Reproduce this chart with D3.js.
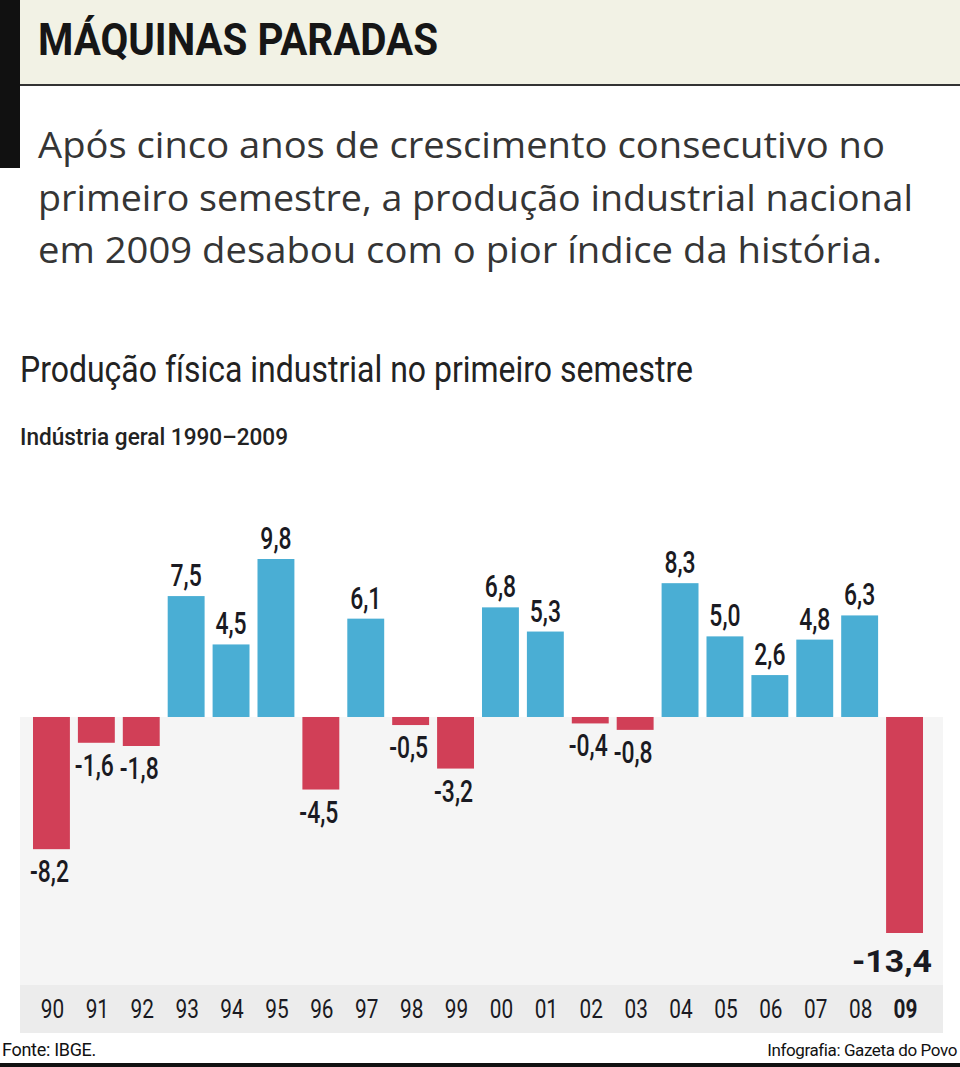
<!DOCTYPE html>
<html>
<head>
<meta charset="utf-8">
<script src="https://cdn.jsdelivr.net/npm/d3@7"></script>
<style>
  html, body { margin: 0; padding: 0; background: #fff; }
  svg { display: block; }
</style>
</head>
<body>
<svg id="chart" width="960" height="1067"></svg>
<script>
// ---- data ----
const years = ["90","91","92","93","94","95","96","97","98","99","00","01","02","03","04","05","06","07","08","09"];
const values = [-8.2,-1.6,-1.8,7.5,4.5,9.8,-4.5,6.1,-0.5,-3.2,6.8,5.3,-0.4,-0.8,8.3,5.0,2.6,4.8,6.3,-13.4];
const title = "MÁQUINAS PARADAS";
const introLines = [
  "Após cinco anos de crescimento consecutivo no",
  "primeiro semestre, a produção industrial nacional",
  "em 2009 desabou com o pior índice da história."
];
const chartTitle = "Produção física industrial no primeiro semestre";
const chartSubtitle = "Indústria geral 1990–2009";
const source = "Fonte: IBGE.";
const credit = "Infografia: Gazeta do Povo";

// ---- drawing ----
const svg = d3.select("#chart");
const BLUE = "#4aaed4", RED = "#d13f57";
const COND = "Roboto, 'Liberation Sans', sans-serif";
const fmt = v => d3.format(".1f")(v).replace(".", ",").replace("\u2212", "-");

// header
svg.append("rect").attr("x", 20).attr("y", 0).attr("width", 940).attr("height", 84).attr("fill", "#f2f2e5");
svg.append("rect").attr("x", 0).attr("y", 0).attr("width", 20).attr("height", 168).attr("fill", "#111");
svg.append("rect").attr("x", 20).attr("y", 84).attr("width", 940).attr("height", 2).attr("fill", "#333");
svg.append("text").attr("x", 38).attr("y", 55)
  .attr("font-family", COND).attr("font-weight", 700).attr("font-size", 44)
  .attr("fill", "#161616").attr("textLength", 400).attr("lengthAdjust", "spacingAndGlyphs")
  .text(title);

const introW = [847, 875, 844];
svg.selectAll("text.intro").data(introLines).join("text")
  .attr("class", "intro")
  .attr("x", 38).attr("y", (d, i) => 158 + i * 52.5)
  .attr("font-family", "'Open Sans', sans-serif").attr("font-size", 37)
  .attr("fill", "#353535")
  .attr("textLength", (d, i) => introW[i]).attr("lengthAdjust", "spacingAndGlyphs")
  .text(d => d);

svg.append("text").attr("x", 20).attr("y", 382)
  .attr("font-family", COND).attr("font-size", 37).attr("fill", "#222")
  .attr("textLength", 673).attr("lengthAdjust", "spacingAndGlyphs")
  .text(chartTitle);
svg.append("text").attr("x", 20).attr("y", 445)
  .attr("font-family", COND).attr("font-weight", 500).attr("font-size", 24).attr("fill", "#222")
  .attr("textLength", 268).attr("lengthAdjust", "spacingAndGlyphs")
  .text(chartSubtitle);

// scales
const x = d3.scaleBand().domain(years).range([29, 927]).paddingInner(0.178).paddingOuter(0.089);
const y = d3.scaleLinear().domain([-13.4, 9.8]).range([933, 559]);
const y0 = y(0);

// backgrounds
svg.append("rect").attr("x", 20).attr("y", y0).attr("width", 923).attr("height", 985 - y0).attr("fill", "#f5f5f5");
svg.append("rect").attr("x", 20).attr("y", 985).attr("width", 923).attr("height", 48).attr("fill", "#ececec");

// bars
svg.selectAll("rect.bar").data(values).join("rect")
  .attr("class", "bar")
  .attr("x", (d, i) => x(years[i]))
  .attr("width", x.bandwidth())
  .attr("y", d => d >= 0 ? y(d) : y0)
  .attr("height", d => Math.abs(y(d) - y0))
  .attr("fill", d => d >= 0 ? BLUE : RED);

// value labels
const last = values.length - 1;
const lab = svg.selectAll("g.lab").data(values).join("g")
  .attr("class", "lab")
  .attr("transform", (d, i) => {
    if (i === last) return `translate(932,${y(d) + 39})`;
    const cx = x(years[i]) + x.bandwidth() / 2 - (d < 0 ? 2 : 0);
    const ty = d >= 0 ? y(d) - 10 : y(d) + 33;
    return `translate(${cx},${ty}) scale(0.74,1)`;
  });
lab.append("text")
  .attr("text-anchor", (d, i) => i === last ? "end" : "middle")
  .attr("font-family", COND)
  .attr("font-weight", (d, i) => i === last ? 700 : 500)
  .attr("font-size", 31)
  .attr("fill", "#1a1a22")
  .each(function (d, i) {
    if (i === last) d3.select(this).attr("textLength", 80).attr("lengthAdjust", "spacingAndGlyphs");
  })
  .text(d => fmt(d));

// year labels (axis)
const axis = d3.axisBottom(x).tickSize(0).tickPadding(0);
const ax = svg.append("g").attr("transform", "translate(0,1018)").call(axis);
ax.select(".domain").remove();
ax.selectAll(".tick text")
  .attr("y", 0).attr("dy", 0)
  .attr("font-family", COND).attr("font-size", 26)
  .attr("font-weight", (d, i) => i === last ? 700 : 400)
  .attr("fill", "#1a1a22")
  .attr("transform", "scale(0.8,1)")
  .attr("x", 0);
ax.selectAll(".tick").each(function (d) {
  const cx = x(d) + x.bandwidth() / 2 + 1;
  d3.select(this).attr("transform", `translate(${cx},0)`);
});

// footer
svg.append("rect").attr("x", 0).attr("y", 1063).attr("width", 960).attr("height", 4).attr("fill", "#111");
svg.append("text").attr("x", 2).attr("y", 1056)
  .attr("font-family", COND).attr("font-size", 18).attr("letter-spacing", -0.3).attr("fill", "#111")
  .text(source);
svg.append("text").attr("x", 957).attr("y", 1056).attr("text-anchor", "end")
  .attr("font-family", COND).attr("font-size", 17).attr("letter-spacing", -0.4).attr("fill", "#111")
  .text(credit);
</script>
</body>
</html>
